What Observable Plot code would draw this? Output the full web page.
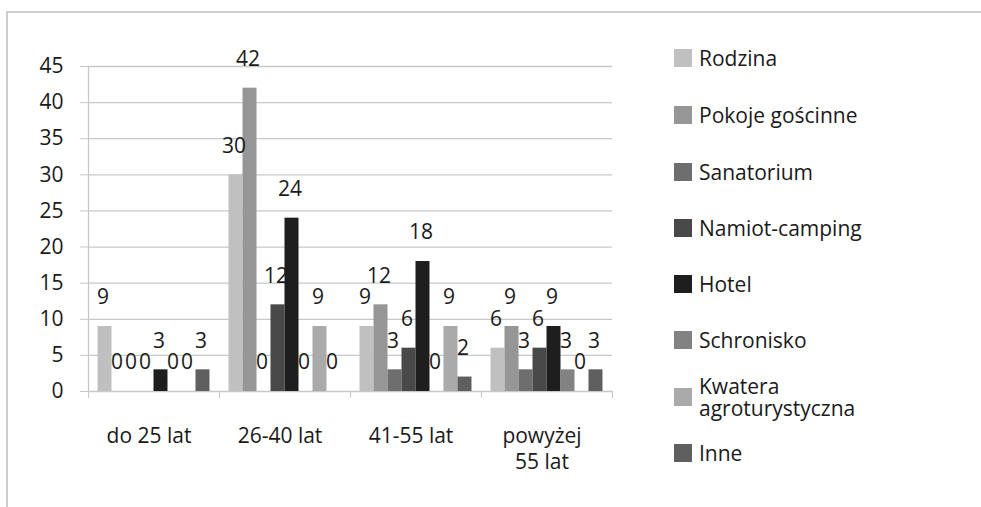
<!DOCTYPE html>
<html>
<head>
<meta charset="utf-8">
<script src="https://cdn.jsdelivr.net/npm/d3@7"></script>
<script src="https://cdn.jsdelivr.net/npm/@observablehq/plot@0.6"></script>
<style>
  html, body { margin: 0; padding: 0; background: #fff; }
  #wrap { position: relative; width: 981px; height: 507px; overflow: hidden; font-family: "Open Sans", sans-serif; }
  #border { position: absolute; left: 6px; top: 11px; right: -4px; bottom: -4px; border-top: 2px solid #cdcdcd; border-left: 2px solid #cdcdcd; }
  #chart { position: absolute; left: 0; top: 0; }
  #legend { position: absolute; left: 674px; top: 0; }
  .row { position: absolute; left: 0; display: flex; align-items: center; white-space: nowrap; }
  .sw { width: 18px; height: 18px; flex: none; margin-right: 7px; }
  .lab { font-size: 21px; color: #1a1a1a; line-height: 22px; }
</style>
</head>
<body>
<div id="wrap">
  <div id="border"></div>
  <div id="chart"></div>
  <div id="legend"></div>
</div>
<script>
// ---- data ----
const categories = ["do 25 lat", "26-40 lat", "41-55 lat", "powyżej\n55 lat"];
const series = ["Rodzina", "Pokoje gościnne", "Sanatorium", "Namiot-camping", "Hotel", "Schronisko", "Kwatera agroturystyczna", "Inne"];
const legendLabels = ["Rodzina", "Pokoje gościnne", "Sanatorium", "Namiot-camping", "Hotel", "Schronisko", "Kwatera\nagroturystyczna", "Inne"];
const valuesDo25 = [9, 0, 0, 0, 3, 0, 0, 3];
const values26_40 = [30, 42, 0, 12, 24, 0, 9, 0];
const values41_55 = [9, 12, 3, 6, 18, 0, 9, 2];
const valuesPow55 = [6, 9, 3, 6, 9, 3, 0, 3];
const yTicks = [0, 5, 10, 15, 20, 25, 30, 35, 40, 45];
const colors = ["#c0c0c0", "#969696", "#6e6e6e", "#494949", "#1e1e1e", "#828282", "#aaaaaa", "#5f5f5f"];

const valueRows = [valuesDo25, values26_40, values41_55, valuesPow55];
const data = [];
categories.forEach((c, i) => series.forEach((s, j) => data.push({category: c, series: s, value: valueRows[i][j]})));

const grid = "#c8c8c8";
const chart = Plot.plot({
  width: 981,
  height: 507,
  marginLeft: 88,
  marginRight: 369,
  marginTop: 66,
  marginBottom: 116,
  style: {fontFamily: "'Open Sans', sans-serif", fontSize: "21px", color: "#1a1a1a", background: "transparent"},
  fx: {domain: categories, padding: 0, round: false, label: null, axis: null},
  x: {domain: series, paddingInner: 0, paddingOuter: 0.68, round: false, axis: null},
  y: {domain: [0, 45], label: null, axis: null},
  color: {domain: series, range: colors},
  marks: [
    Plot.ruleY(yTicks, {stroke: grid, strokeWidth: 1.3}),
    Plot.axisY({ticks: yTicks, tickSize: 8, tickPadding: 17, stroke: grid, fill: "#1a1a1a", fontSize: 21, label: null}),
    Plot.ruleX([{c: categories[0], s: series[0]}], {fx: "c", x: "s", y1: yTicks[0], y2: yTicks[yTicks.length - 1], dx: -16.5, stroke: grid, strokeWidth: 1.3}),
    Plot.axisFx({anchor: "bottom", tickSize: 0, tickPadding: 33, dx: -5, fontSize: 21, lineHeight: 1.25, fill: "#1a1a1a", label: null}),
    Plot.axisFx({anchor: "bottom", tickSize: 7, tickFormat: () => "", stroke: grid, dx: -65.5, label: null}),
    Plot.axisFx({anchor: "bottom", ticks: [categories[categories.length - 1]], tickSize: 7, tickFormat: () => "", stroke: grid, dx: 65.5, label: null}),
    Plot.barY(data, {fx: "category", x: "series", y: "value", fill: "series"}),
    Plot.text(data, {fx: "category", x: "series", y: "value", text: d => String(d.value), dy: -29, dx: -2, fontSize: 21, fill: "#1a1a1a"})
  ]
});
document.getElementById("chart").appendChild(chart);

// legend
const legend = document.getElementById("legend");
const rowCenters = [58, 115, 172, 228, 284, 340, 397, 453];
legendLabels.forEach((lab, i) => {
  const row = document.createElement("div");
  row.className = "row";
  const sw = document.createElement("div");
  sw.className = "sw";
  sw.style.background = colors[i];
  const t = document.createElement("div");
  t.className = "lab";
  t.innerHTML = lab.replace("\n", "<br>");
  row.appendChild(sw);
  row.appendChild(t);
  legend.appendChild(row);
  const h = row.getBoundingClientRect().height;
  row.style.top = (rowCenters[i] - h / 2) + "px";
});
</script>
</body>
</html>
